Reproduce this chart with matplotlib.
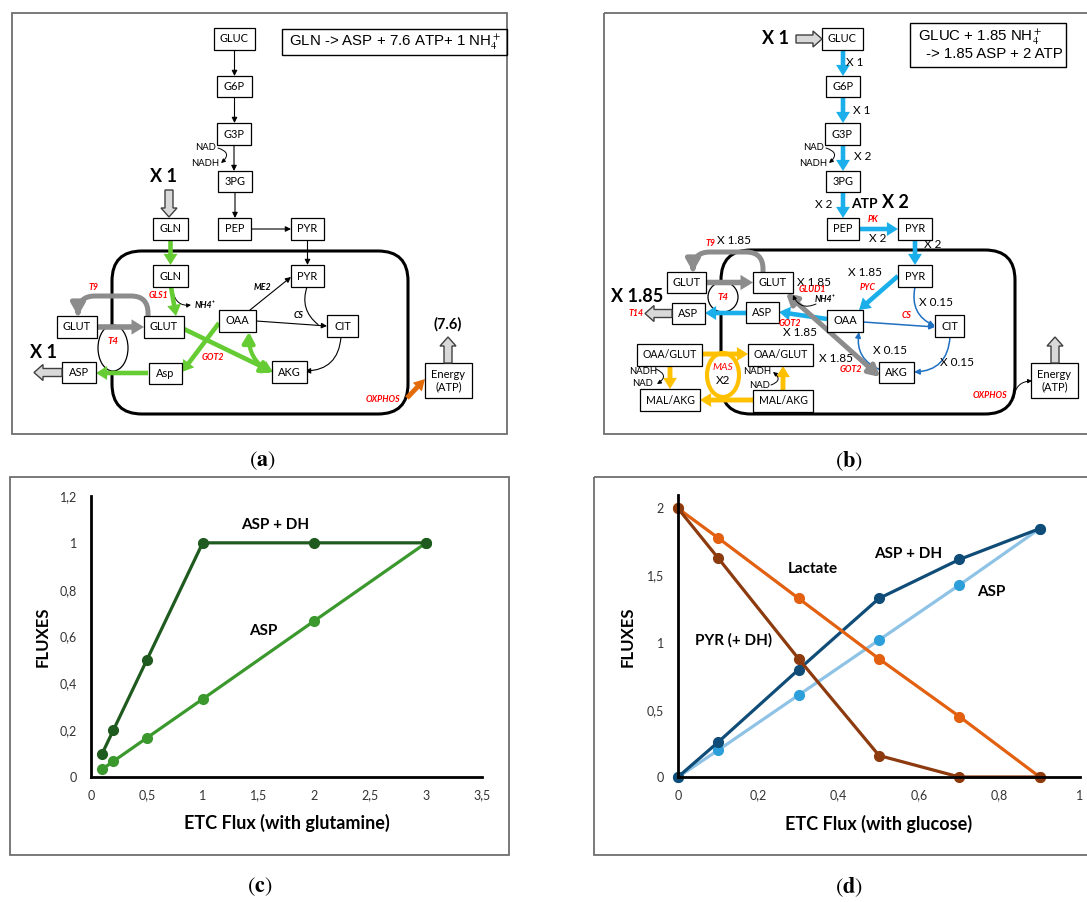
import matplotlib
matplotlib.use('Agg')
import matplotlib.pyplot as plt
from matplotlib.patches import FancyBboxPatch, Rectangle, Ellipse, FancyArrowPatch, FancyArrow

# ---------------- data (charts c and d) ----------------
etc_gln = [0.1, 0.2, 0.5, 1, 2, 3]
asp_dh_gln = [0.1, 0.2, 0.5, 1, 1, 1]
asp_gln = [0.033, 0.067, 0.167, 0.333, 0.667, 1.0]

etc_glc = [0, 0.1, 0.3, 0.5, 0.7, 0.9]
asp_dh_glc = [0, 0.26, 0.8, 1.33, 1.62, 1.85]
asp_glc = [0, 0.2, 0.61, 1.02, 1.43, 1.85]
lactate_glc = [2, 1.78, 1.33, 0.88, 0.45, 0]
pyr_glc = [2, 1.63, 0.88, 0.16, 0, 0]

c_xticks = [0, 0.5, 1, 1.5, 2, 2.5, 3, 3.5]
c_yticks = [0, 0.2, 0.4, 0.6, 0.8, 1.0, 1.2]
d_xticks = [0, 0.2, 0.4, 0.6, 0.8, 1]
d_yticks = [0, 0.5, 1, 1.5, 2]

plt.rcParams['font.family'] = ['Lato', 'DejaVu Sans']
plt.rcParams['mathtext.fontset'] = 'stix'

W, H = 1087, 902
fig = plt.figure(figsize=(W / 100, H / 100), dpi=100)
ax = fig.add_axes([0, 0, 1, 1])
ax.set_xlim(0, W)
ax.set_ylim(H, 0)
ax.axis('off')

FAM = ['Lato', 'DejaVu Sans']
RED = '#FF0000'
GREEN = '#66CC33'
GREY = '#8C8C8C'
BLUE = '#1AAFEA'
DBLUE = '#1F70C1'
ORANGE = '#FFC000'


def box(x, y, w, h, s, fs=7.9):
    ax.add_patch(Rectangle((x - w / 2, y - h / 2), w, h, fc='white', ec='black', lw=0.9, zorder=4))
    ax.text(x, y, s, ha='center', va='center', fontsize=fs, family=FAM, zorder=5, linespacing=1.1)


def txt(x, y, s, fs=8.5, color='black', weight='normal', style='normal', ha='center'):
    ax.text(x, y, s, ha=ha, va='center', fontsize=fs, color=color, weight=weight, style=style,
            family=FAM, zorder=6)


def red(x, y, s, fs=6.3):
    txt(x, y, s, fs=fs, color=RED, weight='bold', style='italic')


def thin(p1, p2, rad=0.0, color='black', lw=0.8, ms=8, style='-|>'):
    ax.add_patch(FancyArrowPatch(p1, p2, arrowstyle=style, mutation_scale=ms, color=color, lw=lw,
                                 connectionstyle=f'arc3,rad={rad}', shrinkA=0, shrinkB=0, zorder=3))


def thick(p1, p2, color, tw=3.3, hw=10, hl=8, rad=0.0):
    ax.add_patch(FancyArrowPatch(p1, p2,
                                 arrowstyle=f'simple,head_length={hl},head_width={hw},tail_width={tw}',
                                 mutation_scale=1, color=color, lw=0,
                                 connectionstyle=f'arc3,rad={rad}', shrinkA=0, shrinkB=0, zorder=3))


def dbl(p1, p2, color, lw=3.0, rad=0.0, ms=8):
    ax.add_patch(FancyArrowPatch(p1, p2, arrowstyle='<|-|>,head_length=0.8,head_width=0.45',
                                 mutation_scale=ms, color=color, lw=lw,
                                 connectionstyle=f'arc3,rad={rad}', shrinkA=0, shrinkB=0, zorder=3))


def arcarrow(p1, p2, color=GREY, lw=3.6, arm=20):
    ax.add_patch(FancyArrowPatch(p1, p2, arrowstyle='-|>,head_length=0.8,head_width=0.45',
                                 mutation_scale=9, color=color, lw=lw,
                                 connectionstyle=f'arc,angleA=90,angleB=90,armA={arm},armB={arm},rad=17',
                                 shrinkA=0, shrinkB=0, zorder=3))


def block(x, y, dx, dy, width=8, hw=16, hl=9):
    ax.add_patch(FancyArrow(x, y, dx, dy, width=width, head_width=hw, head_length=hl,
                            length_includes_head=True, fc='#D9D9D9', ec='#404040', lw=1, zorder=4))


def mito(x0, y0, x1, y1):
    ax.add_patch(FancyBboxPatch((x0, y0), x1 - x0, y1 - y0, boxstyle='round,pad=0,rounding_size=30',
                                fc='none', ec='black', lw=2.2, zorder=1))


def frame(x0, y0, x1, y1):
    ax.add_patch(Rectangle((x0, y0), x1 - x0, y1 - y0, fill=False, ec='#6E6E6E', lw=1.3, zorder=0))


# ======================= panel (a) =======================
frame(12, 13, 507, 434)
ax.add_patch(Rectangle((282, 29), 225, 26, fill=False, ec='black', lw=1, zorder=4))
ax.text(289, 42, r'GLN -> ASP + 7.6 ATP+ 1 NH$_4^+$', ha='left', va='center', fontsize=10.8,
        family='Liberation Sans', zorder=5)
mito(112, 251, 408, 414)
ax.add_patch(Ellipse((113, 348), 30, 46, fc='white', ec='black', lw=0.9, zorder=2))

box(234.5, 39, 41, 22, 'GLUC')
box(234.5, 86.5, 35, 21, 'G6P')
box(234, 134, 34, 22, 'G3P')
box(235, 181.5, 34, 21, '3PG')
box(234.5, 229, 33, 22, 'PEP')
box(307.5, 229, 33, 22, 'PYR')
box(170.5, 229, 35, 22, 'GLN')
box(170.5, 276, 35, 22, 'GLN')
box(307.5, 276, 33, 22, 'PYR')
box(237.5, 321, 37, 22, 'OAA')
box(342.5, 326, 31, 22, 'CIT')
box(164, 327, 40, 22, 'GLUT')
box(77, 327, 40, 22, 'GLUT')
box(79, 372.5, 34, 21, 'ASP')
box(165.5, 373.5, 33, 21, 'Asp')
box(289.5, 372, 35, 22, 'AKG')
box(448.5, 380.5, 47, 35, 'Energy\n(ATP)', fs=8)

thin((234.5, 50), (234.5, 76))
thin((234.5, 97), (234.5, 123))
thin((234, 145), (234, 171))
thin((235, 192), (235, 218))
thin((251, 229), (291, 229))
thin((307.5, 240), (307.5, 265))
thin((250, 310), (291, 277))
thin((256, 321), (327, 326))
thin((307, 287), (318, 324.5), rad=0.35, style='-')
thin((341, 337), (305, 371), rad=-0.45)
thin((218, 148), (221, 163), rad=-0.9, ms=6, lw=0.7)
thin((173, 292), (191, 305), rad=0.45, ms=6, lw=0.7)

thick((170.5, 240), (170.5, 265), GREEN)
thick((171, 287), (176, 316), GREEN)
thick((184, 329), (273, 372), GREEN)
thick((219, 323), (182, 372), GREEN)
thick((148, 373), (96, 373), GREEN)
dbl((249, 332), (272, 373), GREEN, lw=3.0, rad=0.3)

thick((97, 327), (144, 327), GREY, tw=4, hw=11, hl=9)
arcarrow((148, 316), (78, 316))

thick((407, 398), (425, 379), '#E36C09', tw=3.5, hw=9, hl=8)

block(169, 190, 0, 27)
block(62, 372.5, -28, 0)
block(448, 363, 0, -26)

txt(163, 176, 'X 1', fs=13, weight='bold')
txt(43, 353, 'X 1', fs=13, weight='bold')
txt(448, 324, '(7.6)', fs=10.5, weight='bold')
red(94, 288, 'T9')
red(113, 341, 'T4', fs=7)
red(159, 295, 'GLS1')
red(213, 358, 'GOT2')
red(383, 399, 'OXPHOS')
txt(205, 306, 'NH4\u207a', fs=6.3, weight='bold', style='italic')
txt(262, 287, 'ME2', fs=6.3, weight='bold', style='italic')
txt(299, 315, 'CS', fs=6.3, weight='bold', style='italic')
txt(206, 148, 'NAD', fs=6.8)
txt(205, 164, 'NADH', fs=6.8)

# ======================= panel (b) =======================
frame(604, 13, 1100, 434)
ax.add_patch(Rectangle((910, 23), 156, 44, fill=False, ec='black', lw=1, zorder=4))
ax.text(918, 37, r'GLUC + 1.85 NH$_4^+$', ha='left', va='center', fontsize=10.8,
        family='Liberation Sans', zorder=5)
ax.text(922, 54, r' -> 1.85 ASP + 2 ATP', ha='left', va='center', fontsize=10.8,
        family='Liberation Sans', zorder=5)
mito(721, 250, 1015, 414)
ax.add_patch(Ellipse((723, 297), 30, 30, fc='white', ec='black', lw=0.9, zorder=2))
ax.add_patch(Ellipse((723, 375), 32, 44, fc='white', ec=ORANGE, lw=3, zorder=2))

box(842.5, 39, 41, 22, 'GLUC')
box(843, 86.5, 34, 21, 'G6P')
box(842.5, 134, 35, 22, 'G3P')
box(843, 181.5, 34, 21, '3PG')
box(843, 229, 32, 22, 'PEP')
box(915, 229, 34, 22, 'PYR')
box(915, 276, 34, 22, 'PYR')
box(686.5, 282.5, 39, 21, 'GLUT')
box(773, 282.5, 40, 21, 'GLUT')
box(688.5, 313.5, 33, 21, 'ASP')
box(762.5, 312.5, 33, 21, 'ASP')
box(845, 321, 36, 22, 'OAA')
box(949.5, 326, 29, 22, 'CIT')
box(896.5, 372.5, 35, 21, 'AKG')
box(669.5, 355, 65, 22, 'OAA/GLUT', fs=7.6)
box(670, 400, 60, 22, 'MAL/AKG', fs=7.6)
box(780.5, 355, 65, 22, 'OAA/GLUT', fs=7.6)
box(783, 401, 60, 22, 'MAL/AKG', fs=7.6)
box(1054.5, 380.5, 47, 35, 'Energy\n(ATP)', fs=8)

thick((843, 50), (843, 76), BLUE)
thick((843, 97), (843, 123), BLUE)
thick((843, 145), (843, 171), BLUE)
thick((843, 192), (843, 218), BLUE)
thick((859, 229), (898, 229), BLUE)
thick((915, 240), (915, 265), BLUE)
thick((898, 276), (859, 310), BLUE)
thick((827, 319), (779, 312), BLUE)
thick((746, 313), (705, 313), BLUE)

thin((863, 322), (935, 327), color=DBLUE, lw=1.1)
thin((915, 287), (935, 326), rad=0.4, color=DBLUE, lw=1.1)
thin((950, 337), (914, 372), rad=-0.45, color=DBLUE, lw=1.1)
thin((881, 370), (859, 332), rad=-0.4, color=DBLUE, lw=1.1)

thick((706, 282.5), (753, 282.5), GREY, tw=4, hw=11, hl=9)
arcarrow((763, 272), (693, 272))
dbl((880, 377), (786, 293), GREY, lw=3.6)

thick((702, 354), (748, 354), ORANGE, tw=3.5)
thick((753, 400), (700, 400), ORANGE, tw=3.5)
thick((670, 366), (670, 389), ORANGE, tw=3.5)
thick((783, 390), (783, 366), ORANGE, tw=3.5)

thin((826, 148), (829, 163), rad=-0.9, ms=6, lw=0.7)
thin((816, 304), (793, 295), rad=-0.5, ms=6, lw=0.7)
thin((656, 369), (657, 384), rad=-0.9, ms=6, lw=0.7)
thin((771, 385), (773, 372), rad=0.9, ms=6, lw=0.7)
thin((1014, 398), (1032, 381), rad=-0.45, ms=6, lw=0.7)

block(796, 39, 26, 0)
block(672, 313.5, -27, 0)
block(1055, 363, 0, -26)

txt(775, 39, 'X 1', fs=13, weight='bold')
txt(637, 296, 'X 1.85', fs=13, weight='bold')
txt(864, 204, 'ATP', fs=10, weight='bold')
txt(895, 202, 'X 2', fs=13, weight='bold')
txt(855, 62, 'X 1', fs=8.5)
txt(862, 110, 'X 1', fs=8.5)
txt(863, 157, 'X 2', fs=8.5)
txt(824, 204, 'X 2', fs=8.5)
txt(878, 238, 'X 2', fs=8.5)
txt(933, 245, 'X 2', fs=8.5)
txt(734, 241, 'X 1.85', fs=8.5)
txt(814, 282, 'X 1.85', fs=8.5)
txt(865, 272, 'X 1.85', fs=8.5)
txt(800, 333, 'X 1.85', fs=8.5)
txt(836, 359, 'X 1.85', fs=8.5)
txt(936, 302, 'X 0.15', fs=8.5)
txt(957, 362, 'X 0.15', fs=8.5)
txt(890, 351, 'X 0.15', fs=8.5)
txt(723, 380, 'X2', fs=8.5)
txt(825, 300, 'NH4\u207a', fs=6.3, weight='bold', style='italic')
txt(814, 148, 'NAD', fs=6.8)
txt(813, 164, 'NADH', fs=6.8)
txt(643, 371, 'NADH', fs=6.8)
txt(643, 384, 'NAD', fs=6.8)
txt(757, 371, 'NADH', fs=6.8)
txt(760, 385, 'NAD', fs=6.8)
red(711, 243, 'T9')
red(723, 297, 'T4', fs=7)
red(873, 219, 'PK')
red(812, 290, 'GLUD1')
red(636, 314, 'T14')
red(790, 324, 'GOT2')
red(868, 287, 'PYC')
red(851, 369, 'GOT2')
red(907, 315, 'CS')
red(990, 395, 'OXPHOS')
ax.text(723, 367, 'MAS', ha='center', va='center', fontsize=7.5, color=RED, style='italic',
        family=FAM, zorder=6)

# ======================= panel labels =======================
for lx, ly, s in [(262, 461, 'a'), (849, 461, 'b'), (260, 887, 'c'), (849, 887, 'd')]:
    ax.text(lx, ly, r'$(\mathbf{' + s + r'})$', ha='center', va='center', fontsize=16)


def fmt(v):
    return ('%g' % v).replace('.', ',')


def style_axes(a, xt, yt):
    a.set_facecolor('none')
    for sp in ['top', 'right']:
        a.spines[sp].set_visible(False)
    for sp in ['left', 'bottom']:
        a.spines[sp].set_linewidth(2.0)
        a.spines[sp].set_color('black')
    a.set_xticks(xt)
    a.set_xticklabels([fmt(v) for v in xt])
    a.set_yticks(yt)
    a.set_yticklabels([fmt(v) for v in yt])
    a.tick_params(axis='both', length=0, labelsize=9, colors='#333333')
    a.tick_params(axis='x', pad=9)
    a.tick_params(axis='y', pad=10)


# ======================= panel (c) =======================
frame(10, 477, 509, 855)
axc = fig.add_axes([91 / W, 1 - 777 / H, (482 - 91) / W, (777 - 496) / H])
axc.plot(etc_gln, asp_gln, '-o', color='#3A982D', lw=2.3, ms=7, clip_on=False)
axc.plot(etc_gln, asp_dh_gln, '-o', color='#1F5A1E', lw=2.3, ms=7, clip_on=False)
axc.set_xlim(0, 3.5)
axc.set_ylim(0, 1.2)
style_axes(axc, c_xticks, c_yticks)
axc.text(1.647, 1.076, 'ASP + DH', ha='center', va='center', fontsize=11, weight='bold')
axc.text(1.54, 0.623, 'ASP', ha='center', va='center', fontsize=11, weight='bold')
ax.text(43, 637, 'FLUXES', rotation=90, ha='center', va='center', fontsize=12, weight='bold')
ax.text(287, 823, 'ETC Flux (with glutamine)', ha='center', va='center', fontsize=13, weight='bold')

# ======================= panel (d) =======================
frame(594, 477, 1100, 855)
axd = fig.add_axes([678 / W, 1 - 777 / H, (1080 - 678) / W, (777 - 495) / H])
axd.plot(etc_glc, asp_glc, '-', color='#8EC3E6', lw=2.3, clip_on=False)
axd.plot(etc_glc, asp_glc, 'o', color='#2C9FDA', ms=7, clip_on=False)
axd.plot(etc_glc, asp_dh_glc, '-o', color='#0F4C77', lw=2.3, ms=7, clip_on=False)
axd.plot(etc_glc, lactate_glc, '-o', color='#E2600F', lw=2.3, ms=7, clip_on=False)
axd.plot(etc_glc, pyr_glc, '-o', color='#8C3A0E', lw=2.3, ms=7, clip_on=False)
axd.set_xlim(0, 1)
axd.set_ylim(0, 2.1)
style_axes(axd, d_xticks, d_yticks)
axd.text(0.336, 1.55, 'Lactate', ha='center', va='center', fontsize=11, weight='bold')
axd.text(0.572, 1.657, 'ASP + DH', ha='center', va='center', fontsize=11, weight='bold')
axd.text(0.779, 1.38, 'ASP', ha='center', va='center', fontsize=11, weight='bold')
axd.text(0.139, 1.015, 'PYR (+ DH)', ha='center', va='center', fontsize=11, weight='bold')
ax.text(628, 637, 'FLUXES', rotation=90, ha='center', va='center', fontsize=12, weight='bold')
ax.text(879, 824, 'ETC Flux (with glucose)', ha='center', va='center', fontsize=13, weight='bold')

fig.savefig('out.png', dpi=100)
